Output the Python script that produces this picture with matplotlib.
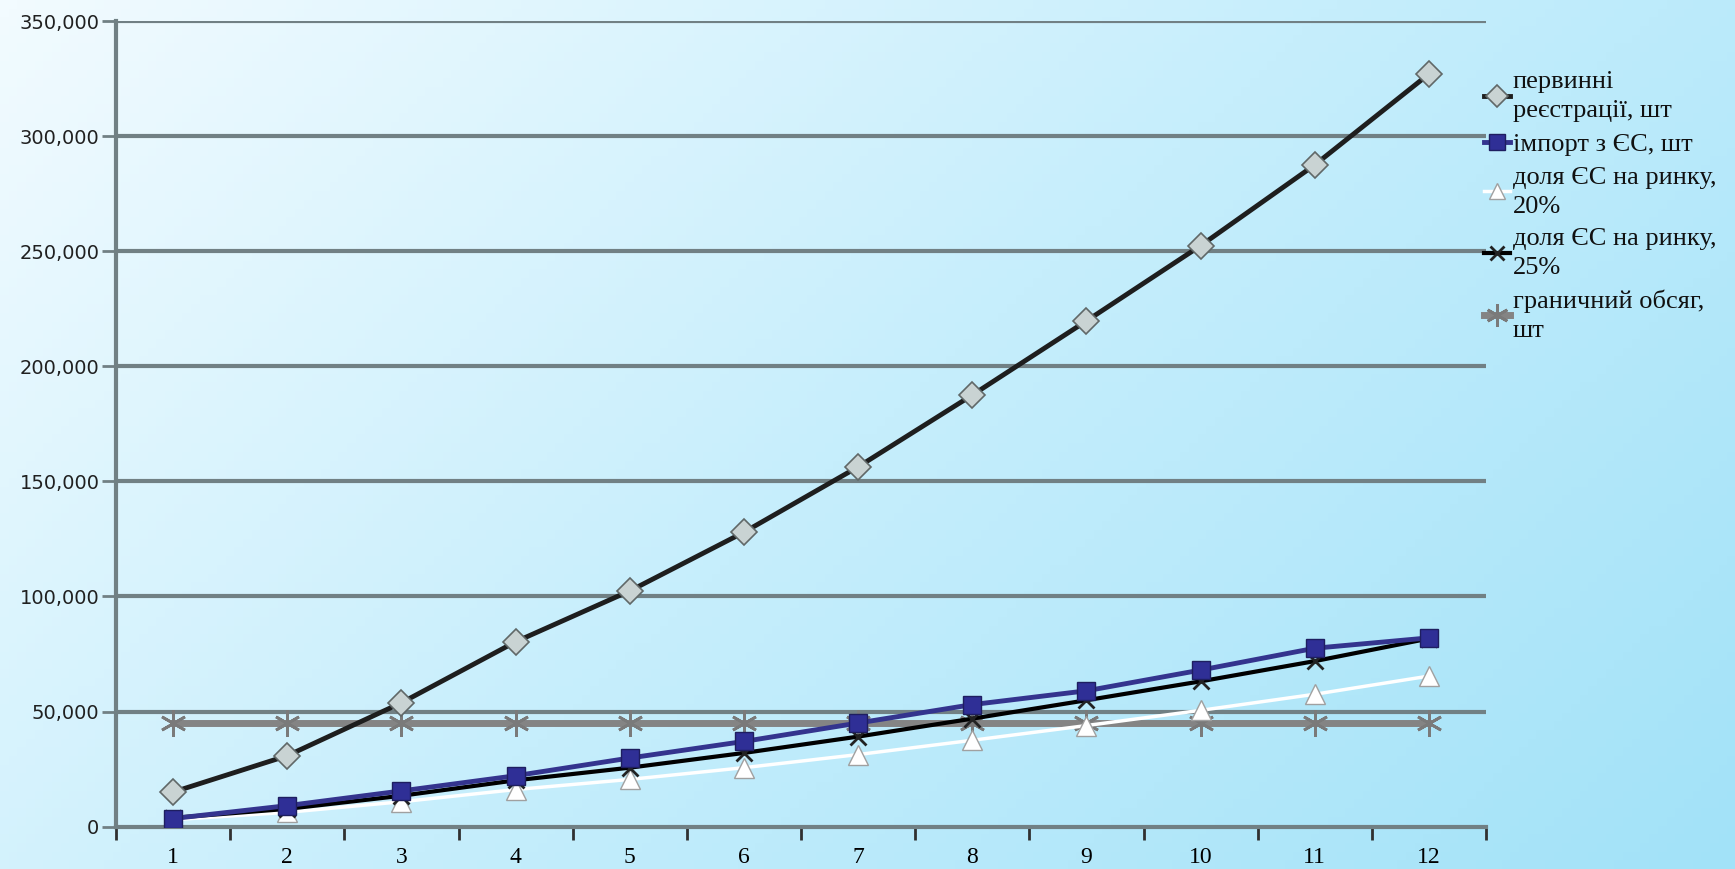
import numpy as np
import matplotlib.pyplot as plt
from matplotlib.colors import LinearSegmentedColormap

months = list(range(1, 13))
first_reg = [15000, 30800, 53800, 80300, 102400, 127900, 156300, 187500, 219700, 252400, 287500, 327000]
import_eu = [3500, 9100, 15500, 22100, 29800, 37000, 45000, 53000, 59000, 68000, 77500, 82000]
share_20 = [3000, 6200, 10800, 16100, 20500, 25600, 31300, 37500, 43900, 50500, 57500, 65400]
share_25 = [3800, 7700, 13400, 20100, 25600, 32000, 39100, 46900, 54900, 63100, 71900, 81700]
limit = [45000] * 12

labels = ['первинні\nреєстрації, шт', 'імпорт з ЄС, шт', 'доля ЄС на ринку,\n20%',
          'доля ЄС на ринку,\n25%', 'граничний обсяг,\nшт']

fig = plt.figure(figsize=(17.35, 8.69), dpi=100)

# background gradient
bg = fig.add_axes([0, 0, 1, 1], zorder=-10)
xx, yy = np.meshgrid(np.linspace(0, 1, 200), np.linspace(0, 1, 100))
grad = 0.65 * xx + 0.35 * yy
cmap = LinearSegmentedColormap.from_list('bg', ['#f2fbff', '#c6eefc', '#a2e2f8'])
bg.imshow(grad, cmap=cmap, aspect='auto', extent=[0, 1, 0, 1], origin='upper')
bg.axis('off')

ax = fig.add_axes([0.0669, 0.0488, 0.7896, 0.927])
ax.patch.set_alpha(0)

grid_c = '#718084'
for v in range(50000, 350001, 50000):
    ax.axhline(v, color=grid_c, lw=3, zorder=1)

ax.plot(months, limit, color='#848484', lw=5, marker=(6, 2, 0), ms=19, mew=2,
        mec='#7a7a7a', label=labels[4], zorder=3)
ax.plot(months, share_20, color='white', lw=2.5, marker='^', ms=14, mfc='white',
        mec='#a0a0a0', mew=1, label=labels[2], zorder=4)
ax.plot(months, share_25, color='black', lw=3, marker='x', ms=12, mew=2,
        mec='#222222', label=labels[3], zorder=5)
ax.plot(months, import_eu, color='#34348e', lw=3.5, marker='s', ms=13, mfc='#2f2f96',
        mec='#1e1e60', mew=1, label=labels[1], zorder=5)
ax.plot(months, first_reg, color='#1e1e1e', lw=3.5, marker='D', ms=13, mfc='#c9d3d3',
        mec='#606868', mew=1.2, label=labels[0], zorder=6)

ax.set_xlim(0.5, 12.5)
ax.set_ylim(0, 350000)
ax.set_xticks(months)
ax.set_xticks(np.arange(0.5, 12.6, 1), minor=True)
ax.set_xticklabels([str(m) for m in months], family='Liberation Serif', fontsize=17)
ax.tick_params(axis='x', which='major', length=0, pad=15)
ax.tick_params(axis='x', which='minor', length=9, width=2, color='#303030', direction='out')
ax.set_yticks(range(0, 350001, 50000))
ax.set_yticklabels([f'{v:,}' for v in range(0, 350001, 50000)], fontsize=14, color='#202020')
ax.tick_params(axis='y', length=10, width=2, color=grid_c, pad=2)

for s in ['top', 'right']:
    ax.spines[s].set_visible(False)
ax.spines['left'].set_color(grid_c)
ax.spines['left'].set_linewidth(3)
ax.spines['bottom'].set_color(grid_c)
ax.spines['bottom'].set_linewidth(3)

h, l = ax.get_legend_handles_labels()
order = [4, 3, 1, 2, 0]
leg = fig.legend([h[i] for i in order], [l[i] for i in order], loc='upper left',
                 bbox_to_anchor=(0.849, 0.93), frameon=False,
                 prop={'family': 'Liberation Serif', 'size': 19},
                 handlelength=1.0, handletextpad=0.1, labelspacing=0.4, borderaxespad=0,
                 markerscale=0.85)
for t in leg.get_texts():
    t.set_linespacing(1.4)
    t.set_color('#111111')

fig.savefig('out.png', dpi=100)
